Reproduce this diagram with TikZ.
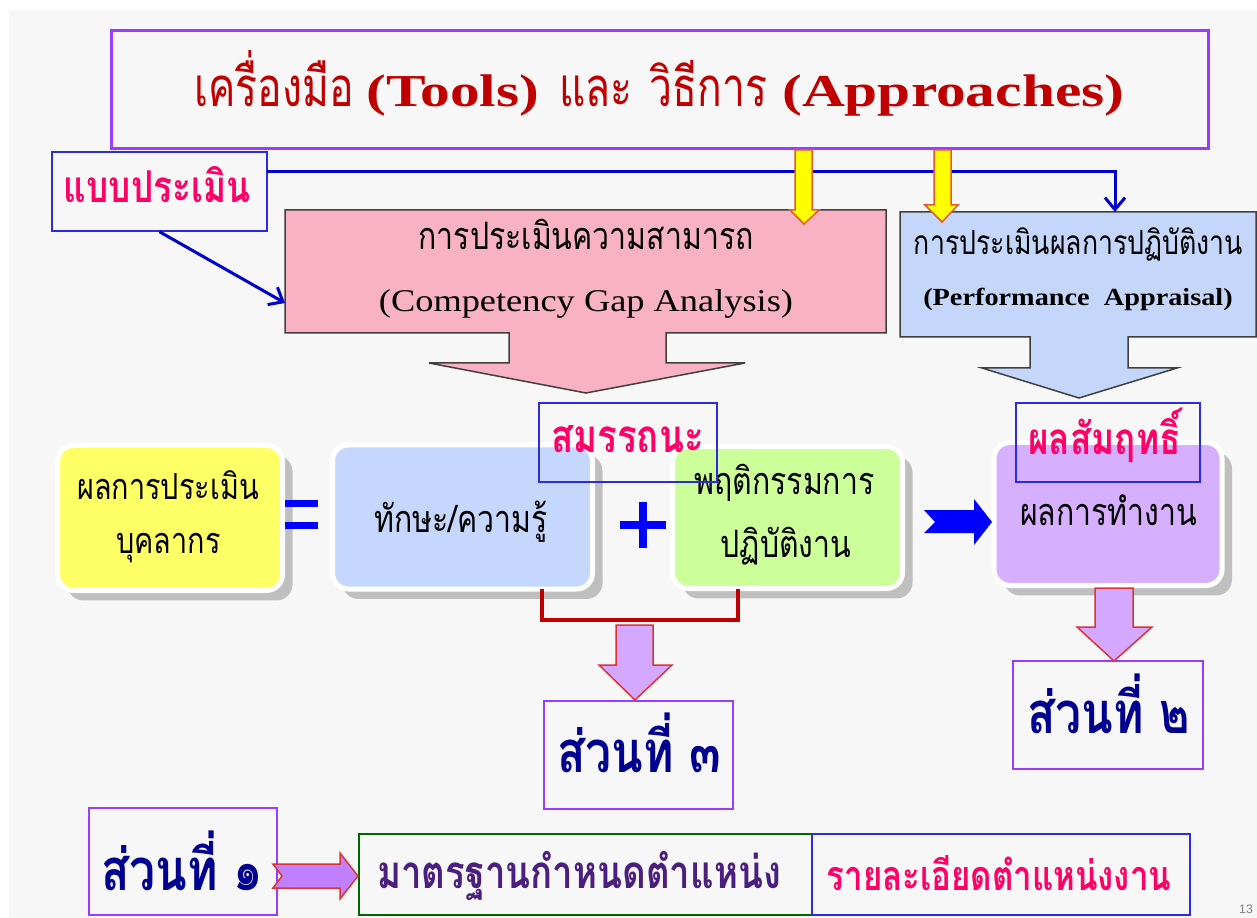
\documentclass[tikz,border=0pt]{standalone}
\usepackage{fontspec}
\usetikzlibrary{shadows,arrows.meta}
\newfontfamily\thai[Script=Thai,FakeStretch=0.8]{Loma}
\newfontfamily\thaiT[Script=Thai,FakeStretch=0.75]{Loma}
\newfontfamily\lat[FakeStretch=1.15]{Liberation Serif}
\newfontfamily\latT[FakeStretch=1.3]{Liberation Serif}
\newfontfamily\sansf{Liberation Sans}
\definecolor{bg}{HTML}{F7F7F7}
\definecolor{tpurple}{HTML}{9B3DFF}
\definecolor{tred}{HTML}{C00000}
\definecolor{frameblue}{HTML}{2B2BE0}
\definecolor{mag}{HTML}{FF0066}
\definecolor{lineblue}{HTML}{0000CC}
\definecolor{pinkf}{HTML}{F9B1C4}
\definecolor{lblue}{HTML}{C4D7FB}
\definecolor{yelf}{HTML}{FFFF00}
\definecolor{yeld}{HTML}{E8582A}
\definecolor{byellow}{HTML}{FFFF66}
\definecolor{bskill}{HTML}{C5D7FD}
\definecolor{bgreen}{HTML}{CCFF99}
\definecolor{bpurple}{HTML}{D6B0FF}
\definecolor{eqblue}{HTML}{0000FF}
\definecolor{parrow}{HTML}{D5A8FF}
\definecolor{parrowd}{HTML}{DD3333}
\definecolor{navy}{HTML}{000090}
\definecolor{violetf}{HTML}{C080FF}
\definecolor{dgreen}{HTML}{006600}
\definecolor{stdtext}{HTML}{4B1F7F}
\definecolor{shadowc}{HTML}{BFBFBF}
\definecolor{outline}{HTML}{404040}
\newcommand\THs[1]{{\thaiT\fontsize{31}{34}\selectfont #1}}
\newcommand\TLs[1]{{\latT\bfseries\fontsize{26}{30}\selectfont #1}}
\begin{document}
\begin{tikzpicture}[x=0.02cm,y=-0.02cm,
  wh/.style 2 args={minimum width=#1*0.02cm,minimum height=#2*0.02cm},
  rbox/.style={draw=white,line width=0.1cm,rounded corners=0.32cm,inner sep=0,
    drop shadow={shadow xshift=0.2cm,shadow yshift=-0.2cm,fill=shadowc,opacity=1}},
  tbox/.style={draw=frameblue,line width=0.03cm,inner sep=0},
  pbox/.style={draw=tpurple,line width=0.05cm,fill=bg,inner sep=0},
  txt/.style={inner sep=0,anchor=base},
  body/.style={txt,font=\thai\fontsize{21.5}{24}\selectfont},
  magt/.style={txt,text=mag,font=\thai\bfseries\fontsize{25}{28}\selectfont},
  partt/.style={txt,text=navy,font=\thai\bfseries\fontsize{33}{36}\selectfont},
  latt/.style={txt,font=\lat\fontsize{18}{22}\selectfont},
  bluecon/.style={draw=lineblue,line width=0.06cm,-{Straight Barb[length=0.24cm,width=0.4cm,line width=0.06cm]}},
  yarr/.style={fill=yelf,draw=yeld,line width=0.03cm},
  parr/.style={fill=parrow,draw=parrowd,line width=0.03cm},
  bracket/.style={draw=tred,line width=0.09cm},
  anchorbox/.style={inner sep=0,outer sep=0}]
% background
\fill[white] (0,0) rectangle (1257,918);
\fill[bg] (9,10) rectangle (1257,918);
\useasboundingbox (0,0) rectangle (1257,918);
% title
\node[draw=tpurple,line width=0.06cm,fill=bg,wh={1097}{118},inner sep=0] (title) at (659.5,89.5) {};
\node[txt,text=tred] (titletext) at (659.5,107) {\THs{เครื่องมือ}\hspace{0.25cm}\TLs{(Tools)}\hspace{0.4cm}\THs{และ}\hspace{0.35cm}\THs{วิธีการ}\hspace{0.3cm}\TLs{(Approaches)}};
% assessment form label
\node[tbox,fill=bg,wh={215}{79}] (bp) at (159.5,191.5) {};
\node[magt] (bptext) at (157,203) {แบบประเมิน};
% pink competency block arrow
\filldraw[fill=pinkf,draw=outline,line width=0.03cm] (285,210) -- (886,210) -- (886,333) -- (666,333) -- (666,363) -- (745,363) -- (586,393) -- (429,363) -- (509,363) -- (509,333) -- (285,333) -- cycle;
\node[anchorbox,wh={601}{123}] (cga) at (585.5,271.5) {};
\coordinate (cgain) at (285,303);
\node[body] (cga1) at (586,250) {การประเมินความสามารถ};
\node[latt] (cga2) at (586,312) {(Competency Gap Analysis)};
% blue performance block arrow
\filldraw[fill=lblue,draw=outline,line width=0.03cm] (900,212) -- (1256,212) -- (1256,337) -- (1128,337) -- (1128,368) -- (1177,368) -- (1079,398) -- (982,368) -- (1030,368) -- (1030,337) -- (900,337) -- cycle;
\node[anchorbox,wh={356}{125}] (perf) at (1078,274.5) {};
\node[body,font=\thai\fontsize{19}{22}\selectfont] (perf1) at (1078.5,255) {การประเมินผลการปฏิบัติงาน};
\node[txt,font=\lat\bfseries\fontsize{14}{18}\selectfont] (perf2) at (1078,306) {(Performance~~Appraisal)};
% blue connectors
\coordinate (j1) at (267,172);
\coordinate (j2) at (1115,172);
\draw[bluecon] (j1) -- (j2) -- (j2 |- perf.north);
\draw[bluecon] (bp.south) -- (cgain);
% yellow arrows from title
\filldraw[yarr] (795,150) -- (812,150) -- (812,210) -- (819,210) -- (804,224) -- (790,210) -- (795,210) -- cycle;
\filldraw[yarr] (934,150) -- (951,150) -- (951,205) -- (958,205) -- (942,222) -- (925,205) -- (934,205) -- cycle;
% rounded boxes
\node[rbox,fill=byellow,wh={225}{145}] (yl) at (170,518) {};
\node[rbox,fill=bskill,wh={260}{144}] (sk) at (462.5,517) {};
\node[rbox,fill=bgreen,wh={230}{142}] (gr) at (787.5,517.5) {};
\node[rbox,fill=bpurple,wh={228}{143}] (res) at (1108,514) {};
\node[body,font=\thai\fontsize{20.5}{24}\selectfont] (yl1) at (168,500) {ผลการประเมิน};
\node[body,font=\thai\fontsize{20.5}{24}\selectfont] (yl2) at (168.5,553) {บุคลากร};
\node[body] (sk1) at (461,532) {ทักษะ/ความรู้};
\node[body] (gr1) at (784.5,495) {พฤติกรรมการ};
\node[body] (gr2) at (786,557) {ปฏิบัติงาน};
\node[body] (res1) at (1108.5,525) {ผลการทำงาน};
% operators
\fill[eqblue] (285,500) rectangle (318,507);
\fill[eqblue] (285,522) rectangle (318,529);
\fill[eqblue] (620,521) rectangle (666,529);
\fill[eqblue] (639,502) rectangle (647,548);
\fill[eqblue] (924,510) -- (974,510) -- (974,499) -- (992,522) -- (974,545) -- (974,533) -- (924,533) -- (935,522) -- cycle;
% label frames
\node[tbox,wh={178}{79}] (comp) at (628,442.5) {};
\node[magt,font=\thai\bfseries\fontsize{26}{28}\selectfont] (comptext) at (627.5,453) {สมรรถนะ};
\node[tbox,wh={184}{79}] (ach) at (1108,442.5) {};
\node[magt] (achtext) at (1104.5,455) {ผลสัมฤทธิ์};
% bracket and part 3
\coordinate (bk1) at (542,589);
\coordinate (bk2) at (738,589);
\draw[bracket] (bk1) -- (542,620) -| (bk2);
\node[pbox,wh={189}{108}] (s3) at (638.5,755) {};
\node[partt] (s3t) at (639,772) {ส่วนที่ ๓};
\filldraw[parr] (616,625) -- (653,625) -- (653,665) -- (672,665) -- (635,700) -- (599,665) -- (616,665) -- cycle;
% part 2
\node[pbox,wh={190}{108}] (s2) at (1108,715) {};
\node[partt] (s2t) at (1108.5,733) {ส่วนที่ ๒};
\filldraw[parr] (1095,588) -- (1133,588) -- (1133,627) -- (1152,627) -- (1114,661) -- (1077,627) -- (1095,627) -- cycle;
% part 1
\node[pbox,wh={188}{107}] (s1) at (183,861.5) {};
\node[partt] (s1t) at (182,890) {ส่วนที่ ๑};
\node[draw=dgreen,line width=0.05cm,inner sep=0,wh={453}{81}] (std) at (585.5,874.5) {};
\node[txt,text=stdtext,font=\thai\bfseries\fontsize{26}{28}\selectfont] (stdt) at (579,888) {มาตรฐานกำหนดตำแหน่ง};
\node[tbox,wh={378}{81}] (det) at (1001,874.5) {};
\node[magt,font=\thai\bfseries\fontsize{23.5}{26}\selectfont] (dett) at (999,890) {รายละเอียดตำแหน่งงาน};
\filldraw[fill=violetf,draw=parrowd,line width=0.03cm] (273,864) -- (340,864) -- (340,853) -- (358,876) -- (340,899) -- (340,888) -- (273,888) -- (282,876) -- cycle;
\node[txt,text=gray,font=\sansf\fontsize{7}{8}\selectfont] (pg) at (1246,913) {13};
\end{tikzpicture}
\end{document}
